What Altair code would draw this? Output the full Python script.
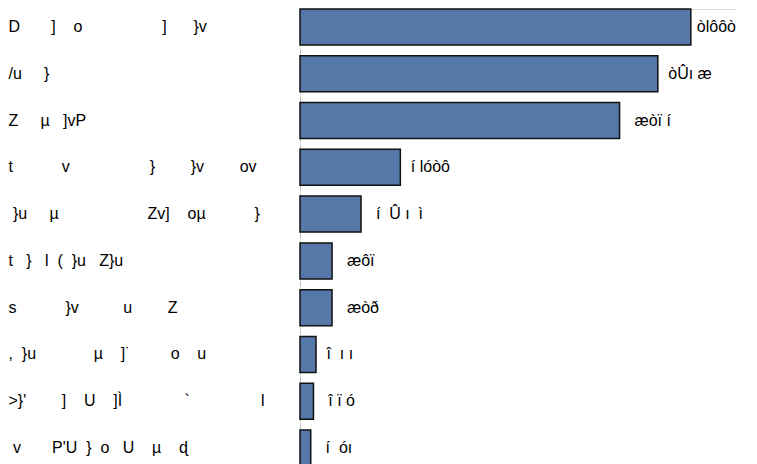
import altair as alt
import pandas as pd

NB = "\u00a0"
ZW = "\u200b"  # keeps leading spaces from being trimmed


def sp(n):
    return NB * n


# Category labels, transcribed glyph-for-glyph from the reference
categories = [
    "D" + sp(7) + "]" + sp(4) + "o" + sp(18) + "]" + sp(6) + "}v",
    "/u" + sp(5) + "}",
    "Z" + sp(5) + "µ" + sp(3) + "]vP",
    "t" + sp(11) + "v" + sp(18) + "}" + sp(8) + "}v" + sp(8) + "ov",
    ZW + sp(1) + "}u" + sp(5) + "µ" + sp(20) + "Zv]" + sp(4) + "oµ" + sp(11) + "}",
    "t" + sp(3) + "}" + sp(3) + "l" + sp(2) + "(" + sp(2) + "}u" + sp(3) + "Z}u",
    "s" + sp(11) + "}v" + sp(10) + "u" + sp(8) + "Z",
    "," + sp(2) + "}u" + sp(13) + "µ" + sp(4) + "]˙" + sp(9) + "o" + sp(4) + "u",
    ">}'" + sp(8) + "]" + sp(4) + "U" + sp(4) + "]Ì" + sp(14) + "`" + sp(16) + "l",
    ZW + sp(1) + "v" + sp(7) + "P'U" + sp(2) + "}" + sp(2) + "o" + sp(3) + "U" + sp(4) + "µ" + sp(4) + "ɖ",
]

# Bar values
values = [6886, 6305, 5631, 1768, 1075, 565, 564, 282, 237, 189]

# Value labels as they appear in the reference
value_labels = [
    "òlôôò",
    ZW + sp(1) + "òÛı" + sp(1) + "æ",
    ZW + sp(2) + "æòï" + sp(1) + "í",
    ZW + sp(1) + "í" + sp(1) + "lóòô",
    ZW + sp(2) + "í" + sp(2) + "Û" + sp(1) + "ı" + sp(2) + "ì",
    ZW + sp(2) + "æôï",
    ZW + sp(2) + "æòð",
    ZW + sp(1) + "î" + sp(2) + "ı" + sp(1) + "ı",
    ZW + sp(2) + "î" + sp(1) + "ï" + sp(1) + "ó",
    ZW + sp(2) + "í" + sp(2) + "óı",
]

df = pd.DataFrame({"category": categories, "value": values, "label": value_labels})

FONT = "Liberation Sans"
FS = 16
XDOM = [0, 7700]
H = 457

y_enc = alt.Y(
    "category:N",
    sort=categories,
    title=None,
    scale=alt.Scale(paddingInner=0.2308, paddingOuter=0),
    axis=alt.Axis(
        ticks=False,
        domain=True,
        domainColor="#bbbbbb",
        domainDash=[4, 4],
        domainWidth=1,
        grid=False,
        labelAlign="left",
        labelPadding=292,
        labelLimit=320,
        labelFont=FONT,
        labelFontSize=FS,
        labelColor="#000000",
        labelBaseline="middle",
    ),
)
x_enc = alt.X("value:Q", axis=None, scale=alt.Scale(domain=XDOM, nice=False))

base = alt.Chart(df)

bars = base.mark_bar(
    color="#5578a8", stroke="#111111", strokeWidth=1.5
).encode(y=y_enc, x=x_enc)

texts = base.mark_text(
    align="left", baseline="middle", dx=6, font=FONT, fontSize=FS, color="#000000"
).encode(y=y_enc, x=x_enc, text="label:N")

chart = (
    alt.layer(bars, texts)
    .properties(width=437, height=H, padding=0)
    .configure_view(stroke="transparent", strokeOpacity=0, strokeWidth=0)
    .configure(background="white")
)

chart.save("out.html", embed_options={"renderer": "svg", "actions": False})
